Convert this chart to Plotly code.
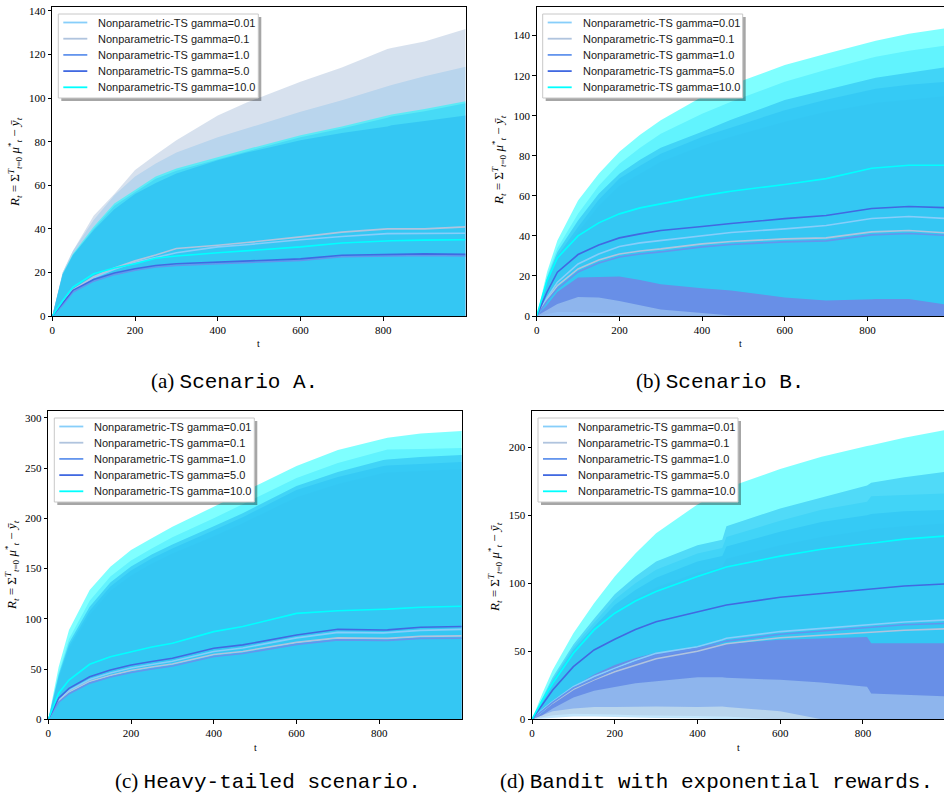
import plotly.graph_objects as go

W, H = 944, 803

# ---------------- data ----------------
T = [0, 25, 50, 100, 150, 200, 250, 300, 400, 460, 470, 600, 700, 810, 820, 900, 999]

LABELS = ["Nonparametric-TS gamma=0.01", "Nonparametric-TS gamma=0.1",
          "Nonparametric-TS gamma=1.0", "Nonparametric-TS gamma=5.0",
          "Nonparametric-TS gamma=10.0"]
COLORS = ["#87CEFA", "#B0C4DE", "#6495ED", "#4169E1", "#00FFFF"]

X_TICKS = [0, 200, 400, 600, 800]
Y_TICKS_A = [0, 20, 40, 60, 80, 100, 120, 140]
Y_TICKS_B = [0, 20, 40, 60, 80, 100, 120, 140]
Y_TICKS_C = [0, 50, 100, 150, 200, 250, 300]
Y_TICKS_D = [0, 50, 100, 150, 200]

FLOOR = [0, 0, 0, 0, 0, 0, 0, 0, 0, 0, 0, 0, 0, 0, 0, 0, 0]

# (a) Scenario A
A_MEAN_001 = [0, 6, 11.5, 17.6, 21.5, 24.7, 27, 29, 31.7, 32.5, 32.7, 35, 36.5, 37.8, 37.8, 37.8, 38]
A_MEAN_01 = [0, 6.5, 12, 18, 22, 25.3, 28, 31, 32.5, 33.5, 33.7, 36.3, 38.5, 40, 40, 40, 40.9]
A_MEAN_1 = [0, 5, 11, 16, 19, 21, 22.5, 23.2, 24, 24.5, 24.6, 25.5, 27.2, 27.6, 27.6, 27.8, 27.5]
A_MEAN_5 = [0, 5.8, 11.8, 16.7, 19.7, 21.7, 23.2, 24, 24.8, 25.2, 25.3, 26.2, 27.9, 28.3, 28.3, 28.5, 28.3]
A_MEAN_10 = [0, 7, 13.3, 19.4, 22, 24, 26.5, 27.5, 29, 29.8, 30, 31.7, 33.5, 34.5, 34.5, 34.8, 35]
A_UP_001 = [0, 20, 30, 44, 55.4, 64, 70, 75, 82, 85.5, 86, 93.7, 99, 105.5, 106, 110, 114.4]
A_UP_01 = [0, 20, 30, 46, 56, 67, 74, 80.7, 92, 97, 98, 107.5, 114, 122.5, 123, 126, 131.7]
A_UP_1 = [0, 19, 28, 40, 50.6, 56.7, 63, 66.7, 72, 75, 75.5, 82, 86, 91, 91.5, 94, 97.6]
A_UP_5 = [0, 19, 28, 39.4, 49, 56, 61, 65.4, 71.5, 74.5, 75, 80.7, 84, 87, 87.5, 89.5, 92]
A_UP_10 = [0, 19.4, 28.6, 41, 51.6, 57.7, 64, 67.7, 73, 76, 76.5, 83, 87, 92, 92.5, 95, 98.6]

# (b) Scenario B
B_MEAN_001 = [0, 9, 16.9, 26, 31, 34.7, 36.5, 37.7, 40.2, 41.5, 41.7, 43.5, 45.2, 48.7, 48.8, 49.7, 48.6]
B_MEAN_01 = [0, 8, 15.2, 23.5, 28, 31, 32.5, 33.5, 36, 37, 37.2, 38.5, 39, 42, 42.1, 42.7, 41.4]
B_MEAN_1 = [0, 7.5, 13.7, 22, 26.5, 29.5, 31, 32, 34.5, 35.5, 35.7, 37, 37.5, 40.5, 40.6, 41.2, 40.2]
B_MEAN_5 = [0, 12, 21.9, 30.7, 35.5, 39, 41, 42.7, 44.7, 46, 46.2, 48.6, 50.2, 53.7, 53.8, 54.7, 54]
B_MEAN_10 = [0, 17.7, 29, 40, 46.5, 51, 54, 56, 60, 62, 62.3, 65.7, 68.6, 73.8, 74, 75.3, 75.3]
B_UP_001 = [0, 20, 34, 51, 65, 76, 84, 91, 101, 106, 107, 117, 123, 129, 129.5, 132.5, 135.3]
B_UP_01 = [0, 17, 28, 42, 55, 65, 71, 77, 85, 89, 89.5, 97, 102, 106, 106.5, 108, 110]
B_UP_1 = [0, 18, 30, 44.4, 58, 68.6, 75, 81, 89.4, 93.5, 94, 102.8, 108, 113, 113.5, 115.5, 117]
B_UP_5 = [0, 19, 32, 47.7, 61, 71, 78, 84, 92, 97, 98, 107.8, 113, 118.5, 119, 121.5, 124.5]
B_UP_10 = [0, 22, 37.7, 57.7, 71, 82, 90.5, 97.8, 109.5, 115, 115.5, 125.3, 131, 137, 137.5, 141, 144]
B_LO_01 = [0, 1, 2, 2, 1.5, 1, 0.5, 0, 0, 0, 0, 0, 0, 0, 0, 0, 0]
B_LO_5 = [0, 3, 6, 9.5, 9.2, 7.5, 5.5, 3.3, 1.5, 0.3, 0.2, 0, 0, 0, 0, 0, 0]
B_LO_10 = [0, 5.5, 12, 19.2, 19.5, 19.7, 18, 15.8, 13.8, 12.8, 12.7, 9.2, 7.8, 8.4, 8.5, 8.5, 5.5]

# (c) Heavy-tailed scenario
C_MEAN_001 = [0, 19, 28.5, 39.5, 46, 51, 54.5, 57.7, 67.5, 70.5, 71, 81, 86.5, 86, 86.2, 88.5, 89.5]
C_MEAN_01 = [0, 18, 27, 37.5, 43.5, 48.5, 52, 55, 64.5, 67, 67.5, 76.5, 81, 80.5, 80.5, 82.5, 83]
C_MEAN_1 = [0, 17, 25.5, 36, 42, 46.5, 50, 53, 62.5, 65, 65.5, 74.5, 79, 78.5, 78.5, 80.5, 80.7]
C_MEAN_5 = [0, 21, 30.8, 42.4, 49, 54, 57.5, 60.7, 70.6, 73.5, 74, 83.9, 89.5, 88.8, 89, 91.5, 92.3]
C_MEAN_10 = [0, 26, 39, 54.7, 62.3, 67.3, 72, 75.6, 87.2, 91.5, 92.3, 105.4, 108, 109.5, 109.6, 111.4, 112.5]
C_UP_001 = [0, 46, 80, 118, 142, 158, 170, 181, 200, 212, 214, 240, 255, 268, 268.5, 269, 270]
C_UP_01 = [0, 40, 70, 104, 128, 143, 155, 165, 182, 193, 195, 221, 234, 245, 245.5, 247, 249]
C_UP_1 = [0, 42, 73, 108, 132, 148, 160, 170, 188, 199, 201, 228, 241, 252, 252.5, 254, 256]
C_UP_5 = [0, 44, 76, 112, 136, 152, 164, 174, 192, 203, 205, 232, 246, 258, 258.5, 261, 263]
C_UP_10 = [0, 52, 88.8, 128.6, 151.8, 168.4, 180, 191.6, 211.5, 224, 226, 252, 267.8, 279, 280, 284.4, 286.7]

# (d) Bandit with exponential rewards
D_MEAN_001 = [0, 7, 13, 24, 31.4, 37.5, 43.5, 48.5, 53.4, 58.5, 59.6, 64.5, 67, 69.5, 69.6, 71.5, 73]
D_MEAN_01 = [0, 6, 12, 22, 29, 35, 40, 44.5, 50, 55, 55.5, 60, 62, 64, 64.1, 65.5, 66.5]
D_MEAN_1 = [0, 6.5, 12.5, 23, 30, 36.5, 42, 46.5, 52, 57, 57.5, 62.5, 65, 67.5, 67.6, 69.5, 70.5]
D_MEAN_5 = [0, 10.5, 21.6, 38.7, 51, 58.8, 66, 71.8, 79.2, 83.5, 84, 89.7, 92.5, 95.8, 96, 98, 99.5]
D_MEAN_10 = [0, 14, 26.5, 48.5, 65.7, 78, 87, 94, 105, 111, 112, 120, 125, 129.3, 129.5, 132.5, 134.8]
D_UP_001 = [0, 15, 29, 53, 71, 88, 100, 110, 122, 126, 134, 146, 154, 160, 164, 165, 166]
D_UP_01 = [0, 13, 26, 48, 64, 79, 89, 97, 108, 112, 118, 128, 134, 139, 140, 142, 144]
D_UP_1 = [0, 14, 28, 51, 68, 84, 95, 104, 116, 120, 127, 138, 145, 150, 151, 153, 154]
D_UP_5 = [0, 16, 31, 55, 74, 92, 105, 116, 128, 132, 142, 155, 163, 172, 174, 178, 182]
D_UP_10 = [0, 19, 36.3, 63.2, 85.3, 105, 122, 136.8, 158, 168, 170, 184, 193, 201, 201.5, 207, 212.7]
D_LO_001 = [0, 0.5, 1.5, 2, 2, 1.5, 1, 1, 0.5, 0, 0, 0, 0, 0, 0, 0, 0]
D_LO_01 = [0, 1.5, 3, 4, 4, 3.5, 3, 3, 2.5, 2, 2, 0, 0, 0, 0, 0, 0]
D_LO_1 = [0, 3, 6, 8, 9, 9, 9.5, 9.5, 9, 9.5, 9, 6, 0, 0, 0, 0, 0]
D_LO_5 = [0, 3, 8, 16, 21, 24, 26.5, 28, 31, 31, 30.5, 29, 27, 24, 19, 18, 17]
D_LO_10 = [0, 5, 12, 24, 33, 40, 45, 49, 53, 55, 55.5, 58.5, 59.5, 60.5, 56, 56, 56]

CAPTION_TAGS = ["(a)", "(b)", "(c)", "(d)"]
CAPTION_TEXTS = ["Scenario A.", "Scenario B.", "Heavy-tailed scenario.",
                 "Bandit with exponential rewards."]

# ---------------- layout geometry (pixels) ----------------
PANELS = [
    dict(left=52.3, right=465.6, top=7, bottom=316, xmax=999, ymax=141.8, yticks=Y_TICKS_A,
         mirror_y=True, means=[A_MEAN_001, A_MEAN_01, A_MEAN_1, A_MEAN_5, A_MEAN_10],
         ups=[A_UP_001, A_UP_01, A_UP_1, A_UP_5, A_UP_10],
         los=[FLOOR, FLOOR, FLOOR, FLOOR, FLOOR],
         cap_x=234, cap_y=381, yt_x=15, yt_y=162, xt_y=344),
    dict(left=536.7, right=944, top=7, bottom=316, xmax=985, ymax=154.3, yticks=Y_TICKS_B,
         mirror_y=False, means=[B_MEAN_001, B_MEAN_01, B_MEAN_1, B_MEAN_5, B_MEAN_10],
         ups=[B_UP_001, B_UP_01, B_UP_1, B_UP_5, B_UP_10],
         los=[FLOOR, B_LO_01, FLOOR, B_LO_5, B_LO_10],
         cap_x=720, cap_y=381, yt_x=499, yt_y=160, xt_y=344),
    dict(left=48.3, right=462, top=411, bottom=719.3, xmax=1000, ymax=306.7, yticks=Y_TICKS_C,
         mirror_y=True, means=[C_MEAN_001, C_MEAN_01, C_MEAN_1, C_MEAN_5, C_MEAN_10],
         ups=[C_UP_001, C_UP_01, C_UP_1, C_UP_5, C_UP_10],
         los=[FLOOR, FLOOR, FLOOR, FLOOR, FLOOR],
         cap_x=268, cap_y=781, yt_x=12, yt_y=565, xt_y=747),
    dict(left=532, right=944, top=411, bottom=719.3, xmax=996, ymax=226.7, yticks=Y_TICKS_D,
         mirror_y=False, means=[D_MEAN_001, D_MEAN_01, D_MEAN_1, D_MEAN_5, D_MEAN_10],
         ups=[D_UP_001, D_UP_01, D_UP_1, D_UP_5, D_UP_10],
         los=[D_LO_001, D_LO_01, D_LO_1, D_LO_5, D_LO_10],
         cap_x=716, cap_y=781, yt_x=495, yt_y=567, xt_y=747),
]


def rgba(hexc, a):
    h = hexc.lstrip("#")
    return "rgba(%d,%d,%d,%s)" % (int(h[0:2], 16), int(h[2:4], 16), int(h[4:6], 16), a)


def fx(p):
    return p / W


def fy(p):
    return 1 - p / H


SERIF = "Liberation Serif"
SANS = "Liberation Sans"
MONO = "Liberation Mono"

fig = go.Figure()
shapes = []
annotations = []
layout = {}

YTITLE = ("<i>R<sub>t</sub></i> = Σ<sup><i>T</i></sup><sub><i>t</i>=0</sub> "
          "<i>μ</i><sup>*</sup><sub><i>t</i></sub> − <i>ȳ<sub>t</sub></i>")

for k, p in enumerate(PANELS):
    suf = "" if k == 0 else str(k + 1)
    xa, ya = "x" + suf, "y" + suf
    # confidence bands (mean +/- std, clipped at the axis floor)
    for i in range(5):
        fig.add_trace(go.Scatter(x=T, y=p["los"][i], mode="lines", line=dict(width=0),
                                 xaxis=xa, yaxis=ya, showlegend=False, hoverinfo="skip"))
        fig.add_trace(go.Scatter(x=T, y=p["ups"][i], mode="lines", line=dict(width=0),
                                 fill="tonexty", fillcolor=rgba(COLORS[i], 0.5),
                                 xaxis=xa, yaxis=ya, showlegend=False, hoverinfo="skip"))
    # mean lines
    for i in range(5):
        fig.add_trace(go.Scatter(x=T, y=p["means"][i], mode="lines",
                                 line=dict(color=COLORS[i], width=1.6),
                                 name=LABELS[i], xaxis=xa, yaxis=ya, showlegend=False))

    axis_common = dict(showline=True, linecolor="black", linewidth=1, ticks="outside",
                       ticklen=3.5, tickwidth=0.8, tickcolor="black", showgrid=False,
                       zeroline=False, automargin=False,
                       tickfont=dict(family=SERIF, size=11, color="black"))
    layout["xaxis" + suf] = dict(domain=[fx(p["left"]), fx(p["right"])], anchor=ya,
                                 range=[0, p["xmax"]], tickvals=X_TICKS, mirror=True,
                                 **axis_common)
    layout["yaxis" + suf] = dict(domain=[fy(p["bottom"]), fy(p["top"])], anchor=xa,
                                 range=[0, p["ymax"]], tickvals=p["yticks"],
                                 mirror=p["mirror_y"], **axis_common)

    # axis titles
    annotations.append(dict(x=fx((p["left"] + min(p["right"], p["left"] + 413.5)) / 2),
                            y=fy(p["xt_y"]), xref="paper", yref="paper", text="t",
                            xanchor="center", yanchor="middle",
                            showarrow=False, font=dict(family=SERIF, size=10, color="black")))
    annotations.append(dict(x=fx(p["yt_x"]), y=fy(p["yt_y"]), xref="paper", yref="paper",
                            text=YTITLE, textangle=-90, showarrow=False,
                            xanchor="center", yanchor="middle",
                            font=dict(family=SERIF, size=13, color="black")))
    # caption
    annotations.append(dict(x=fx(p["cap_x"]), y=fy(p["cap_y"]), xref="paper", yref="paper",
                            text=CAPTION_TAGS[k] + " <span style=\"font-family:'" + MONO + "'\">"
                            + CAPTION_TEXTS[k] + "</span>",
                            xanchor="center", yanchor="middle",
                            showarrow=False, font=dict(family=SERIF, size=21, color="black")))

    # legend box (matplotlib style, with shadow)
    bl, bt, bw, bh = p["left"] + 6, p["top"] + 7, 200, 84
    shapes.append(dict(type="rect", xref="paper", yref="paper", layer="above",
                       x0=fx(bl + 3), x1=fx(bl + bw + 3), y0=fy(bt + bh + 3), y1=fy(bt + 3),
                       fillcolor="rgba(0,0,0,0.35)", line=dict(width=0)))
    shapes.append(dict(type="rect", xref="paper", yref="paper", layer="above",
                       x0=fx(bl), x1=fx(bl + bw), y0=fy(bt + bh), y1=fy(bt),
                       fillcolor="white", line=dict(color="#c8c8c8", width=1)))
    for i in range(5):
        yc = bt + 8.5 + 16.2 * i
        shapes.append(dict(type="line", xref="paper", yref="paper", layer="above",
                           x0=fx(bl + 5), x1=fx(bl + 29), y0=fy(yc), y1=fy(yc),
                           line=dict(color=COLORS[i], width=1.8)))
        annotations.append(dict(x=fx(bl + 38), y=fy(yc), xref="paper", yref="paper",
                                xanchor="left", yanchor="middle", text=LABELS[i],
                                showarrow=False,
                                font=dict(family=SANS, size=11, color="#1a1a1a")))

fig.update_layout(template="none", width=W, height=H,
                  margin=dict(l=0, r=0, t=0, b=0, autoexpand=False),
                  font=dict(family=SERIF, color="black"),
                  paper_bgcolor="white", plot_bgcolor="white", showlegend=False,
                  shapes=shapes, annotations=annotations, **layout)

fig.write_html("out.html", config={"displayModeBar": False},
               post_script="document.body.style.margin='0px';"
                           "document.body.style.overflow='hidden';")
